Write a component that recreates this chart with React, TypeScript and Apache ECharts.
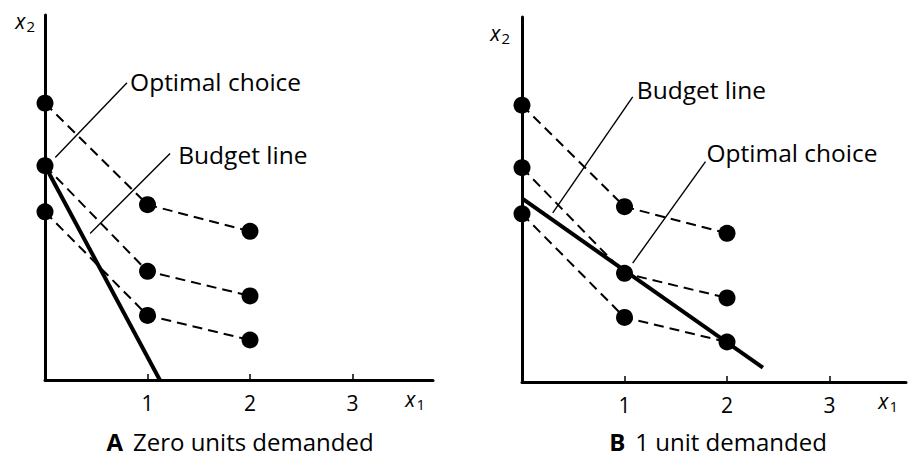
import React, { useEffect, useRef } from "react";
import * as echarts from "echarts";

// Quantities of good 1 at which bundles are shown
const bundleX = [0, 1, 2];
// Three indifference curves (x2 values at x1 = 0, 1, 2)
const curveHigh = [2.7, 1.71, 1.45];
const curveMid = [2.09, 1.06, 0.82];
const curveLow = [1.64, 0.63, 0.39];

// Budget lines [x1, x2] endpoints
const budgetA = [[0, 2.09], [1.12, 0]];
const budgetB = [[0, 1.79], [2.35, 0.14]];

const xTicks = [1, 2, 3];

// Annotations: leader line [from, to] and label anchor
const annotationsA = [
  { text: "Optimal choice", line: [[0.1, 2.17], [0.8, 2.9]], anchor: [0.83, 2.91] },
  { text: "Budget line", line: [[0.44, 1.43], [1.22, 2.21]], anchor: [1.3, 2.2] },
];
const annotationsB = [
  { text: "Budget line", line: [[0.3, 1.65], [1.08, 2.78]], anchor: [1.12, 2.85] },
  { text: "Optimal choice", line: [[1.08, 1.16], [1.79, 2.15]], anchor: [1.8, 2.24] },
];

const titles = [
  { letter: "A", text: "Zero units demanded" },
  { letter: "B", text: "1 unit demanded" },
];

const FONT = "Open Sans";

function panelSeries(idx: number, budget: number[][], notes: typeof annotationsA) {
  const base = { xAxisIndex: idx, yAxisIndex: idx };
  const series: any[] = [];
  [curveHigh, curveMid, curveLow].forEach((c) => {
    series.push({
      ...base,
      type: "line",
      data: bundleX.map((x, i) => [x, c[i]]),
      symbol: "none",
      clip: false,
      lineStyle: { color: "#000", width: 2, type: [10, 6] },
      silent: true,
    });
  });
  series.push({
    ...base,
    type: "line",
    data: budget,
    symbol: "none",
    clip: false,
    lineStyle: { color: "#000", width: 4 },
    silent: true,
  });
  notes.forEach((n) => {
    series.push({
      ...base,
      type: "line",
      data: n.line,
      symbol: "none",
      clip: false,
      lineStyle: { color: "#000", width: 1.4 },
      silent: true,
    });
  });
  const pts: number[][] = [];
  [curveHigh, curveMid, curveLow].forEach((c) => bundleX.forEach((x, i) => pts.push([x, c[i]])));
  series.push({
    ...base,
    type: "scatter",
    data: pts,
    symbolSize: 17,
    clip: false,
    itemStyle: { color: "#000", opacity: 1 },
    silent: true,
  });
  series.push({
    ...base,
    type: "scatter",
    data: notes.map((n) => ({ value: n.anchor, name: n.text })),
    symbolSize: 0,
    clip: false,
    silent: true,
    itemStyle: { opacity: 1 },
    label: {
      show: true,
      position: "right",
      distance: 0,
      formatter: (p: any) => p.name,
      color: "#000",
      fontFamily: FONT,
      fontSize: 24.5,
    },
  });
  return series;
}

const subRich = {
  i: { fontFamily: FONT, fontStyle: "italic", fontSize: 21, color: "#000" },
  s: { fontFamily: FONT, fontSize: 15, color: "#000", padding: [10, 0, 0, 1] },
};

function xAxisCfg(idx: number, max: number) {
  return {
    type: "value",
    gridIndex: idx,
    min: 0,
    max,
    splitLine: { show: false },
    axisLine: { show: true, lineStyle: { color: "#000", width: 3 } },
    axisTick: { show: true, inside: true, length: 6, customValues: xTicks, lineStyle: { color: "#000", width: 1.5 } },
    axisLabel: { show: true, customValues: xTicks, color: "#000", fontFamily: FONT, fontSize: 21, margin: 12 },
    name: "{i|x}{s|1}",
    nameLocation: "end",
    nameGap: -8,
    nameTextStyle: { align: "right", verticalAlign: "top", padding: [6, 0, 0, 0], rich: subRich },
  };
}

function yAxisCfg(idx: number, gap: number, padRight: number) {
  return {
    type: "value",
    gridIndex: idx,
    min: 0,
    max: 3.56,
    splitLine: { show: false },
    axisLine: { show: true, lineStyle: { color: "#000", width: 3 } },
    axisTick: { show: false },
    axisLabel: { show: false },
    name: "{i|x}{s|2}",
    nameLocation: "end",
    nameGap: gap,
    nameTextStyle: { align: "right", verticalAlign: "middle", padding: [0, padRight, 0, 0], rich: subRich },
  };
}

export default function App() {
  const ref = useRef<HTMLDivElement>(null);
  useEffect(() => {
    if (!ref.current) return;
    const chart = echarts.init(ref.current, null, { renderer: "svg" });
    chart.setOption({
      animation: false,
      backgroundColor: "#fff",
      title: titles.map((t, i) => ({
        text: `{b|${t.letter}}  {r|${t.text}}`,
        left: i === 0 ? 235 : 713,
        top: 424,
        textAlign: "center",
        textStyle: {
          fontWeight: "normal",
          rich: {
            b: { fontFamily: FONT, fontWeight: "bold", fontSize: 24, color: "#000" },
            r: { fontFamily: FONT, fontWeight: "normal", fontSize: 24, color: "#000" },
          },
        },
      })),
      grid: [
        { left: 45, top: 15, width: 388, height: 365 },
        { left: 522, top: 17, width: 384, height: 365 },
      ],
      xAxis: [xAxisCfg(0, 3.785), xAxisCfg(1, 3.746)],
      yAxis: [yAxisCfg(0, -6, 10), yAxisCfg(1, -16, 12)],
      series: [...panelSeries(0, budgetA, annotationsA), ...panelSeries(1, budgetB, annotationsB)],
    });
    return () => chart.dispose();
  }, []);
  return <div ref={ref} style={{ position: "absolute", left: 0, top: 0, width: 909, height: 457 }} />;
}
